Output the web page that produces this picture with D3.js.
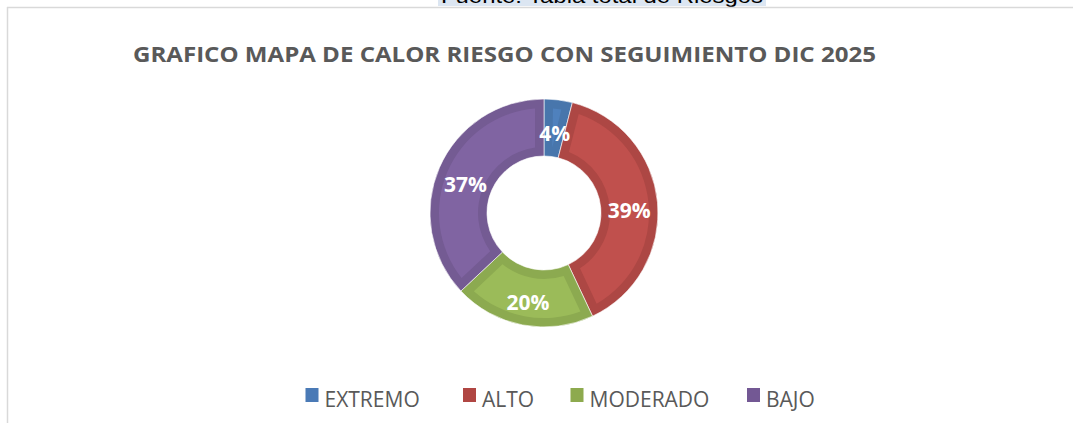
<!DOCTYPE html>
<html>
<head>
<meta charset="utf-8">
<script src="https://cdn.jsdelivr.net/npm/d3@7"></script>
<style>
  html, body { margin: 0; padding: 0; background: #ffffff; }
  svg { display: block; }
</style>
</head>
<body>
<div id="chart"></div>
<script>
// datos del grafico
const categories = ["EXTREMO", "ALTO", "MODERADO", "BAJO"];
const values = [4, 39, 20, 37];
const fillColors = ["#4F81BD", "#C0504D", "#9BBB59", "#8064A2"];
const edgeColors = ["#4876AC", "#AD4744", "#8CAA50", "#745B93"];
const legendColors = ["#4A7AB6", "#B04643", "#8DAA4E", "#735894"];
const chartTitle = "GRAFICO MAPA DE CALOR RIESGO CON SEGUIMIENTO DIC 2025";
const sourceText = "Fuente: Tabla total de Riesgos";

const W = 1073, H = 423;

const svg = d3.select("#chart").append("svg")
    .attr("width", W)
    .attr("height", H);

// texto de la fuente cortado arriba (con resaltado)
svg.append("rect")
    .attr("x", 438).attr("y", 0)
    .attr("width", 328).attr("height", 6)
    .attr("fill", "#DCE6F2");
svg.append("text")
    .attr("x", 441).attr("y", 3)
    .attr("textLength", 322)
    .attr("lengthAdjust", "spacingAndGlyphs")
    .style("font-family", "'Liberation Sans', Arial, sans-serif")
    .style("font-size", "21px")
    .attr("fill", "#000")
    .text(sourceText);

// borde del area del grafico
svg.append("line")
    .attr("x1", 7).attr("x2", W).attr("y1", 7.5).attr("y2", 7.5)
    .attr("stroke", "#D9D9D9").attr("stroke-width", 1.5);
svg.append("line")
    .attr("x1", 7.5).attr("x2", 7.5).attr("y1", 7).attr("y2", H)
    .attr("stroke", "#D9D9D9").attr("stroke-width", 1.5);

// titulo
svg.append("text")
    .attr("x", 133).attr("y", 62)
    .attr("textLength", 743)
    .attr("lengthAdjust", "spacingAndGlyphs")
    .style("font-family", "'Open Sans', sans-serif")
    .style("font-weight", "bold")
    .style("font-size", "21px")
    .attr("fill", "#595959")
    .text(chartTitle);

// dona
const cx = 544, cy = 213;
const outerR = 114, innerR = 57, bevel = 9;

const data = categories.map((c, i) => ({cat: c, value: values[i], i: i}));

const pie = d3.pie()
    .sort(null)
    .value(d => d.value);

const arcs = pie(data);

const arcOuter = d3.arc()
    .innerRadius(innerR)
    .outerRadius(outerR);

const arcInner = d3.arc()
    .innerRadius(innerR + bevel)
    .outerRadius(outerR - bevel)
    .padRadius(100)
    .padAngle(bevel * 2 / 100);

const labelArc = d3.arc()
    .innerRadius((innerR + outerR) / 2)
    .outerRadius((innerR + outerR) / 2);

const g = svg.append("g")
    .attr("transform", "translate(" + cx + "," + cy + ")");

g.selectAll(".slice")
    .data(arcs)
    .enter().append("path")
    .attr("class", "slice")
    .attr("d", arcOuter)
    .attr("fill", d => edgeColors[d.data.i])
    .attr("stroke", "#ffffff")
    .attr("stroke-width", 0.6);

g.selectAll(".slice-face")
    .data(arcs)
    .enter().append("path")
    .attr("class", "slice-face")
    .attr("d", arcInner)
    .attr("fill", d => fillColors[d.data.i]);

// etiquetas de porcentaje
g.selectAll(".pct")
    .data(arcs)
    .enter().append("text")
    .attr("class", "pct")
    .attr("transform", d => {
        const c = labelArc.centroid(d);
        return "translate(" + c[0] + "," + (c[1] + 5) + ")";
    })
    .attr("text-anchor", "middle")
    .attr("dominant-baseline", "central")
    .style("font-family", "'Open Sans', sans-serif")
    .style("font-weight", "bold")
    .style("font-size", "21px")
    .attr("fill", "#ffffff")
    .text(d => d.data.value + "%");

// leyenda
const legendX = [305.5, 463, 570.5, 747];
const legend = svg.selectAll(".legend")
    .data(data)
    .enter().append("g")
    .attr("class", "legend")
    .attr("transform", (d, i) => "translate(" + legendX[i] + ",388)");

legend.append("rect")
    .attr("width", 13).attr("height", 14)
    .attr("fill", d => legendColors[d.i]);

legend.append("text")
    .attr("x", 19).attr("y", 18.5)
    .style("font-family", "'Open Sans', sans-serif")
    .style("font-size", "21px")
    .attr("fill", "#595959")
    .text(d => d.cat);
</script>
</body>
</html>
